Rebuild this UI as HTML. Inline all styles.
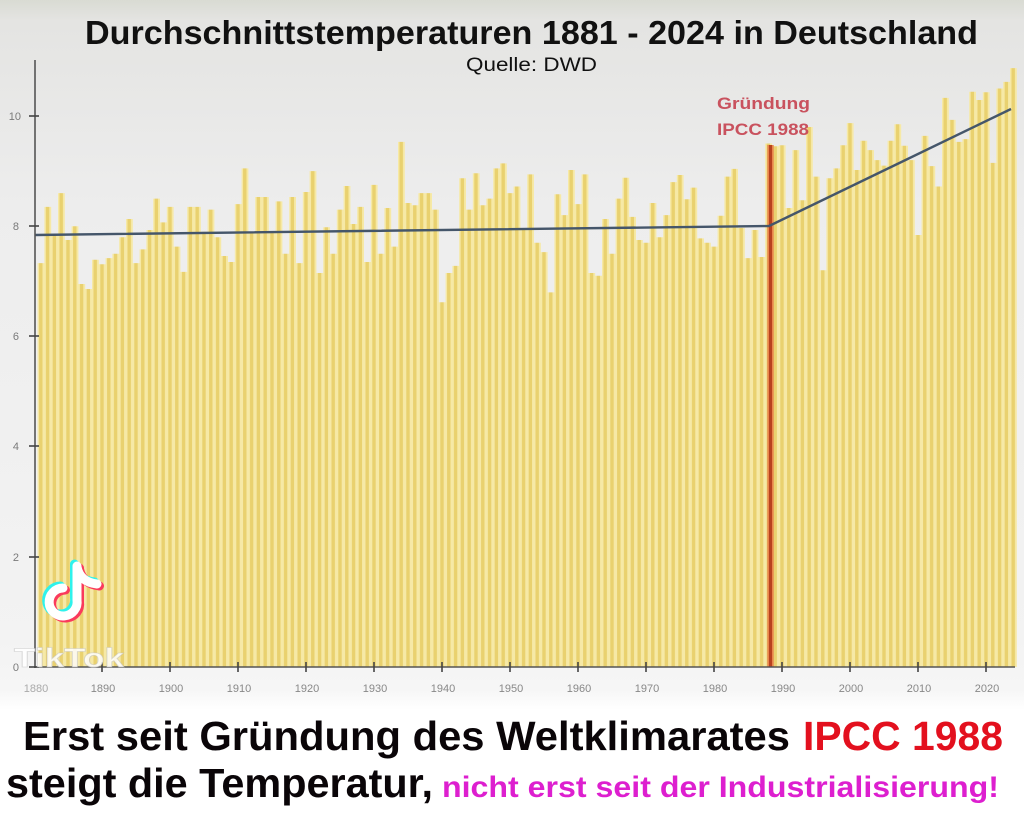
<!DOCTYPE html>
<html>
<head>
<meta charset="utf-8">
<style>
  html,body{margin:0;padding:0;background:#fff;}
  svg{display:block;}
  .ax{font-family:"Liberation Sans",sans-serif;font-size:11px;fill:#7a7a7a;}
</style>
</head>
<body>
<svg width="1024" height="821" viewBox="0 0 1024 821" xmlns="http://www.w3.org/2000/svg">
  <defs>
    <linearGradient id="bg" x1="0" y1="0" x2="0" y2="821" gradientUnits="userSpaceOnUse">
      <stop offset="0" stop-color="#d9dbd3"/>
      <stop offset="0.025" stop-color="#e4e4e2"/>
      <stop offset="0.25" stop-color="#ededed"/>
      <stop offset="0.78" stop-color="#f3f3f3"/>
      <stop offset="0.84" stop-color="#f6f6f6"/>
      <stop offset="0.865" stop-color="#ffffff"/>
      <stop offset="1" stop-color="#ffffff"/>
    </linearGradient>
    <pattern id="bp" patternUnits="userSpaceOnUse" x="-0.5" y="0" width="1" height="20">
      <rect x="0" y="0" width="1" height="20" fill="#f6e9a6"/>
      <rect x="0.22" y="0" width="0.5" height="20" fill="#e9d16f"/>
    </pattern>
  </defs>

  <rect x="0" y="0" width="1024" height="821" fill="url(#bg)"/>

  <!-- Title -->
  <text x="85" y="44" font-family="Liberation Sans, sans-serif" font-weight="bold" font-size="33" fill="#111" textLength="893" lengthAdjust="spacingAndGlyphs">Durchschnittstemperaturen 1881 - 2024 in Deutschland</text>
  <text x="466" y="71" font-family="Liberation Sans, sans-serif" font-size="19" fill="#111" textLength="131" lengthAdjust="spacingAndGlyphs">Quelle: DWD</text>

  <!-- Bars -->
  <g transform="translate(41 667) scale(6.8 -55.1)">
    <path fill="url(#bp)" d="M-0.5 0
      V7.33 h1 V8.35 h1 V7.84 h1 V8.6 h1 V7.75 h1 V8.0 h1 V6.95 h1 V6.86 h1 V7.39 h1 V7.31 h1
      V7.42 h1 V7.5 h1 V7.8 h1 V8.13 h1 V7.33 h1 V7.58 h1 V7.93 h1 V8.5 h1 V8.07 h1 V8.35 h1
      V7.63 h1 V7.17 h1 V8.35 h1 V8.35 h1 V7.9 h1 V8.3 h1 V7.8 h1 V7.46 h1 V7.35 h1 V8.4 h1
      V9.05 h1 V7.9 h1 V8.53 h1 V8.53 h1 V7.9 h1 V8.45 h1 V7.5 h1 V8.53 h1 V7.33 h1 V8.62 h1
      V9.0 h1 V7.15 h1 V7.98 h1 V7.5 h1 V8.3 h1 V8.73 h1 V8.04 h1 V8.35 h1 V7.35 h1 V8.75 h1
      V7.5 h1 V8.33 h1 V7.63 h1 V9.53 h1 V8.42 h1 V8.38 h1 V8.6 h1 V8.6 h1 V8.3 h1 V6.62 h1
      V7.15 h1 V7.28 h1 V8.87 h1 V8.3 h1 V8.96 h1 V8.38 h1 V8.5 h1 V9.05 h1 V9.14 h1 V8.6 h1
      V8.72 h1 V7.95 h1 V8.94 h1 V7.7 h1 V7.53 h1 V6.8 h1 V8.58 h1 V8.2 h1 V9.02 h1 V8.4 h1
      V8.94 h1 V7.15 h1 V7.1 h1 V8.13 h1 V7.5 h1 V8.5 h1 V8.88 h1 V8.17 h1 V7.75 h1 V7.7 h1
      V8.42 h1 V7.8 h1 V8.2 h1 V8.8 h1 V8.93 h1 V8.49 h1 V8.7 h1 V7.78 h1 V7.7 h1 V7.63 h1
      V8.19 h1 V8.9 h1 V9.04 h1 V7.97 h1 V7.42 h1 V7.93 h1 V7.44 h1 V9.5 h1 V9.45 h1 V9.47 h1
      V8.33 h1 V9.38 h1 V8.47 h1 V9.8 h1 V8.9 h1 V7.2 h1 V8.87 h1 V9.05 h1 V9.47 h1 V9.87 h1
      V9.02 h1 V9.55 h1 V9.38 h1 V9.2 h1 V9.1 h1 V9.55 h1 V9.85 h1 V9.46 h1 V9.2 h1 V7.84 h1
      V9.64 h1 V9.09 h1 V8.72 h1 V10.33 h1 V9.93 h1 V9.53 h1 V9.58 h1 V10.44 h1 V10.29 h1 V10.43 h1
      V9.15 h1 V10.5 h1 V10.62 h1 V10.87 h1 V0 Z"/>
  </g>

  <!-- IPCC vertical line -->
  <rect x="767.3" y="145" width="6.4" height="522" fill="#e8864c"/>
  <rect x="769" y="145" width="3" height="522" fill="#b8421f"/>

  <!-- Trend lines -->
  <polyline points="35,235 769,226 1011,109" fill="none" stroke="#45566a" stroke-width="2.4" stroke-linejoin="round"/>

  <!-- Gründung label -->
  <text x="717" y="109" font-family="Liberation Sans, sans-serif" font-weight="bold" font-size="17" fill="#c9525e" textLength="93" lengthAdjust="spacingAndGlyphs">Gründung</text>
  <text x="717" y="135" font-family="Liberation Sans, sans-serif" font-weight="bold" font-size="17" fill="#c9525e" textLength="92" lengthAdjust="spacingAndGlyphs">IPCC 1988</text>

  <!-- Axes -->
  <line x1="35" y1="60" x2="35" y2="668" stroke="#555" stroke-width="1.6"/>
  <line x1="34" y1="667" x2="1015" y2="667" stroke="#555" stroke-width="1.6"/>
  <g stroke="#444" stroke-width="1.6">
    <line x1="29" y1="116" x2="39" y2="116"/>
    <line x1="29" y1="226" x2="39" y2="226"/>
    <line x1="29" y1="336" x2="39" y2="336"/>
    <line x1="29" y1="446" x2="39" y2="446"/>
    <line x1="29" y1="557" x2="39" y2="557"/>
    <line x1="29" y1="667" x2="39" y2="667"/>
    <line x1="102" y1="662" x2="102" y2="672"/>
    <line x1="170" y1="662" x2="170" y2="672"/>
    <line x1="238" y1="662" x2="238" y2="672"/>
    <line x1="306" y1="662" x2="306" y2="672"/>
    <line x1="374" y1="662" x2="374" y2="672"/>
    <line x1="442" y1="662" x2="442" y2="672"/>
    <line x1="510" y1="662" x2="510" y2="672"/>
    <line x1="578" y1="662" x2="578" y2="672"/>
    <line x1="646" y1="662" x2="646" y2="672"/>
    <line x1="714" y1="662" x2="714" y2="672"/>
    <line x1="782" y1="662" x2="782" y2="672"/>
    <line x1="850" y1="662" x2="850" y2="672"/>
    <line x1="918" y1="662" x2="918" y2="672"/>
    <line x1="986" y1="662" x2="986" y2="672"/>
  </g>
  <g class="ax" text-anchor="end">
    <text x="21" y="120">10</text>
    <text x="19" y="230">8</text>
    <text x="19" y="340">6</text>
    <text x="19" y="450">4</text>
    <text x="19" y="561">2</text>
    <text x="19" y="671">0</text>
  </g>
  <g class="ax" text-anchor="middle" style="fill:#888">
    <text x="36" y="692" style="fill:#aaa">1880</text>
    <text x="103" y="692">1890</text>
    <text x="171" y="692">1900</text>
    <text x="239" y="692">1910</text>
    <text x="307" y="692">1920</text>
    <text x="375" y="692">1930</text>
    <text x="443" y="692">1940</text>
    <text x="511" y="692">1950</text>
    <text x="579" y="692">1960</text>
    <text x="647" y="692">1970</text>
    <text x="715" y="692">1980</text>
    <text x="783" y="692">1990</text>
    <text x="851" y="692">2000</text>
    <text x="919" y="692">2010</text>
    <text x="987" y="692">2020</text>
  </g>

  <!-- TikTok watermark -->
  <g fill="none" stroke-width="9" stroke-linecap="round" stroke-linejoin="round">
    <g transform="translate(-2.5,-2)" stroke="#2ef2ec">
      <path d="M77 566 V600 A14 14 0 1 1 63 588"/>
      <path d="M77 567 Q80 582 97 584"/>
    </g>
    <g transform="translate(2.5,2)" stroke="#fa3a5c">
      <path d="M77 566 V600 A14 14 0 1 1 63 588"/>
      <path d="M77 567 Q80 582 97 584"/>
    </g>
    <g stroke="#ffffff">
      <path d="M77 566 V600 A14 14 0 1 1 63 588"/>
      <path d="M77 567 Q80 582 97 584"/>
    </g>
  </g>
  <text x="14" y="667" font-family="Liberation Sans, sans-serif" font-weight="bold" font-size="27" fill="#ffffff" fill-opacity="0.85" stroke="#bbbbbb" stroke-opacity="0.5" stroke-width="0.8" textLength="110" lengthAdjust="spacingAndGlyphs">TikTok</text>

  <!-- Bottom caption -->
  <text x="23" y="750" font-family="Liberation Sans, sans-serif" font-weight="bold" font-size="41" fill="#0a0508" textLength="767" lengthAdjust="spacingAndGlyphs">Erst seit Gründung des Weltklimarates</text>
  <text x="803" y="750" font-family="Liberation Sans, sans-serif" font-weight="bold" font-size="41" fill="#e3101e" textLength="200" lengthAdjust="spacingAndGlyphs">IPCC 1988</text>
  <text x="6" y="797" font-family="Liberation Sans, sans-serif" font-weight="bold" font-size="41" fill="#0a0508" textLength="427" lengthAdjust="spacingAndGlyphs">steigt die Temperatur,</text>
  <text x="442" y="797" font-family="Liberation Sans, sans-serif" font-weight="bold" font-size="30" fill="#dd1fcf" textLength="557" lengthAdjust="spacingAndGlyphs">nicht erst seit der Industrialisierung!</text>
</svg>
</body>
</html>
